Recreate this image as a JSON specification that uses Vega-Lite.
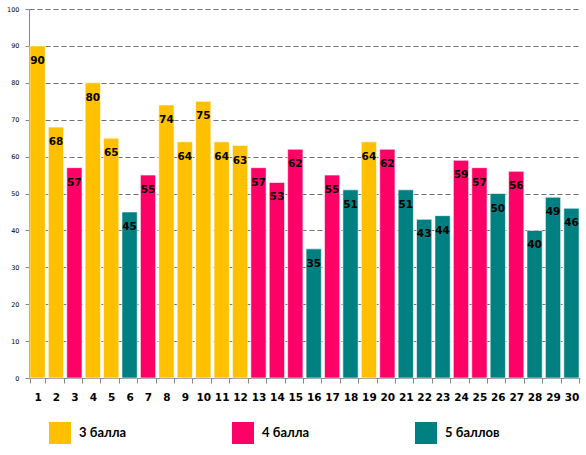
{
  "$schema": "https://vega.github.io/schema/vega-lite/v6.json",
  "width": 551,
  "height": 369,
  "autosize": {"type": "none"},
  "padding": {"left": 29, "top": 9, "right": 6, "bottom": 77},
  "background": "white",
  "data": {
    "values": [
      {"n": 1, "score": 90, "grade": "3 балла"},
      {"n": 2, "score": 68, "grade": "3 балла"},
      {"n": 3, "score": 57, "grade": "4 балла"},
      {"n": 4, "score": 80, "grade": "3 балла"},
      {"n": 5, "score": 65, "grade": "3 балла"},
      {"n": 6, "score": 45, "grade": "5 баллов"},
      {"n": 7, "score": 55, "grade": "4 балла"},
      {"n": 8, "score": 74, "grade": "3 балла"},
      {"n": 9, "score": 64, "grade": "3 балла"},
      {"n": 10, "score": 75, "grade": "3 балла"},
      {"n": 11, "score": 64, "grade": "3 балла"},
      {"n": 12, "score": 63, "grade": "3 балла"},
      {"n": 13, "score": 57, "grade": "4 балла"},
      {"n": 14, "score": 53, "grade": "4 балла"},
      {"n": 15, "score": 62, "grade": "4 балла"},
      {"n": 16, "score": 35, "grade": "5 баллов"},
      {"n": 17, "score": 55, "grade": "4 балла"},
      {"n": 18, "score": 51, "grade": "5 баллов"},
      {"n": 19, "score": 64, "grade": "3 балла"},
      {"n": 20, "score": 62, "grade": "4 балла"},
      {"n": 21, "score": 51, "grade": "5 баллов"},
      {"n": 22, "score": 43, "grade": "5 баллов"},
      {"n": 23, "score": 44, "grade": "5 баллов"},
      {"n": 24, "score": 59, "grade": "4 балла"},
      {"n": 25, "score": 57, "grade": "4 балла"},
      {"n": 26, "score": 50, "grade": "5 баллов"},
      {"n": 27, "score": 56, "grade": "4 балла"},
      {"n": 28, "score": 40, "grade": "5 баллов"},
      {"n": 29, "score": 49, "grade": "5 баллов"},
      {"n": 30, "score": 46, "grade": "5 баллов"}
    ]
  },
  "encoding": {
    "x": {
      "field": "n",
      "type": "ordinal",
      "title": null,
      "scale": {"paddingInner": 0.17, "paddingOuter": 0.05},
      "axis": {
        "labelAngle": 0,
        "labelFont": "DejaVu Sans",
        "labelFontWeight": "bold",
        "labelFontSize": 10.5,
        "labelColor": "black",
        "labelPadding": 9,
        "domainColor": "#888888",
        "tickColor": "#888888",
        "tickSize": 5,
        "tickBand": "extent",
        "grid": false
      }
    },
    "y": {
      "field": "score",
      "type": "quantitative",
      "title": null,
      "scale": {"domain": [0, 100], "nice": false},
      "axis": {
        "values": [0, 10, 20, 30, 40, 50, 60, 70, 80, 90, 100],
        "labelFont": "DejaVu Sans",
        "labelFontSize": 6.5,
        "labelColor": "black",
        "labelPadding": 6,
        "domainColor": "#888888",
        "tickColor": "#888888",
        "tickSize": 4,
        "gridColor": "#707070",
        "gridDash": [5, 3],
        "gridWidth": 1
      }
    }
  },
  "layer": [
    {
      "mark": {"type": "bar", "stroke": "white", "strokeWidth": 0.6},
      "encoding": {
        "color": {
          "field": "grade",
          "type": "nominal",
          "title": null,
          "scale": {
            "domain": ["3 балла", "4 балла", "5 баллов"],
            "range": ["#FFC000", "#FF0066", "#008080"]
          },
          "legend": {
            "orient": "none",
            "legendX": 20,
            "legendY": 413,
            "direction": "horizontal",
            "columns": 3,
            "columnPadding": 105,
            "symbolType": "square",
            "symbolSize": 484,
            "symbolStrokeWidth": 0,
            "labelFont": "Lato",
            "labelFontWeight": "bold",
            "labelFontSize": 13,
            "labelColor": "black",
            "labelOffset": 8
          }
        }
      }
    },
    {
      "mark": {
        "type": "text",
        "baseline": "middle",
        "dy": 15,
        "font": "DejaVu Sans",
        "fontWeight": "bold",
        "fontSize": 10.5,
        "color": "black"
      },
      "encoding": {
        "text": {"field": "score", "type": "quantitative"}
      }
    }
  ],
  "config": {
    "view": {"stroke": null}
  }
}
